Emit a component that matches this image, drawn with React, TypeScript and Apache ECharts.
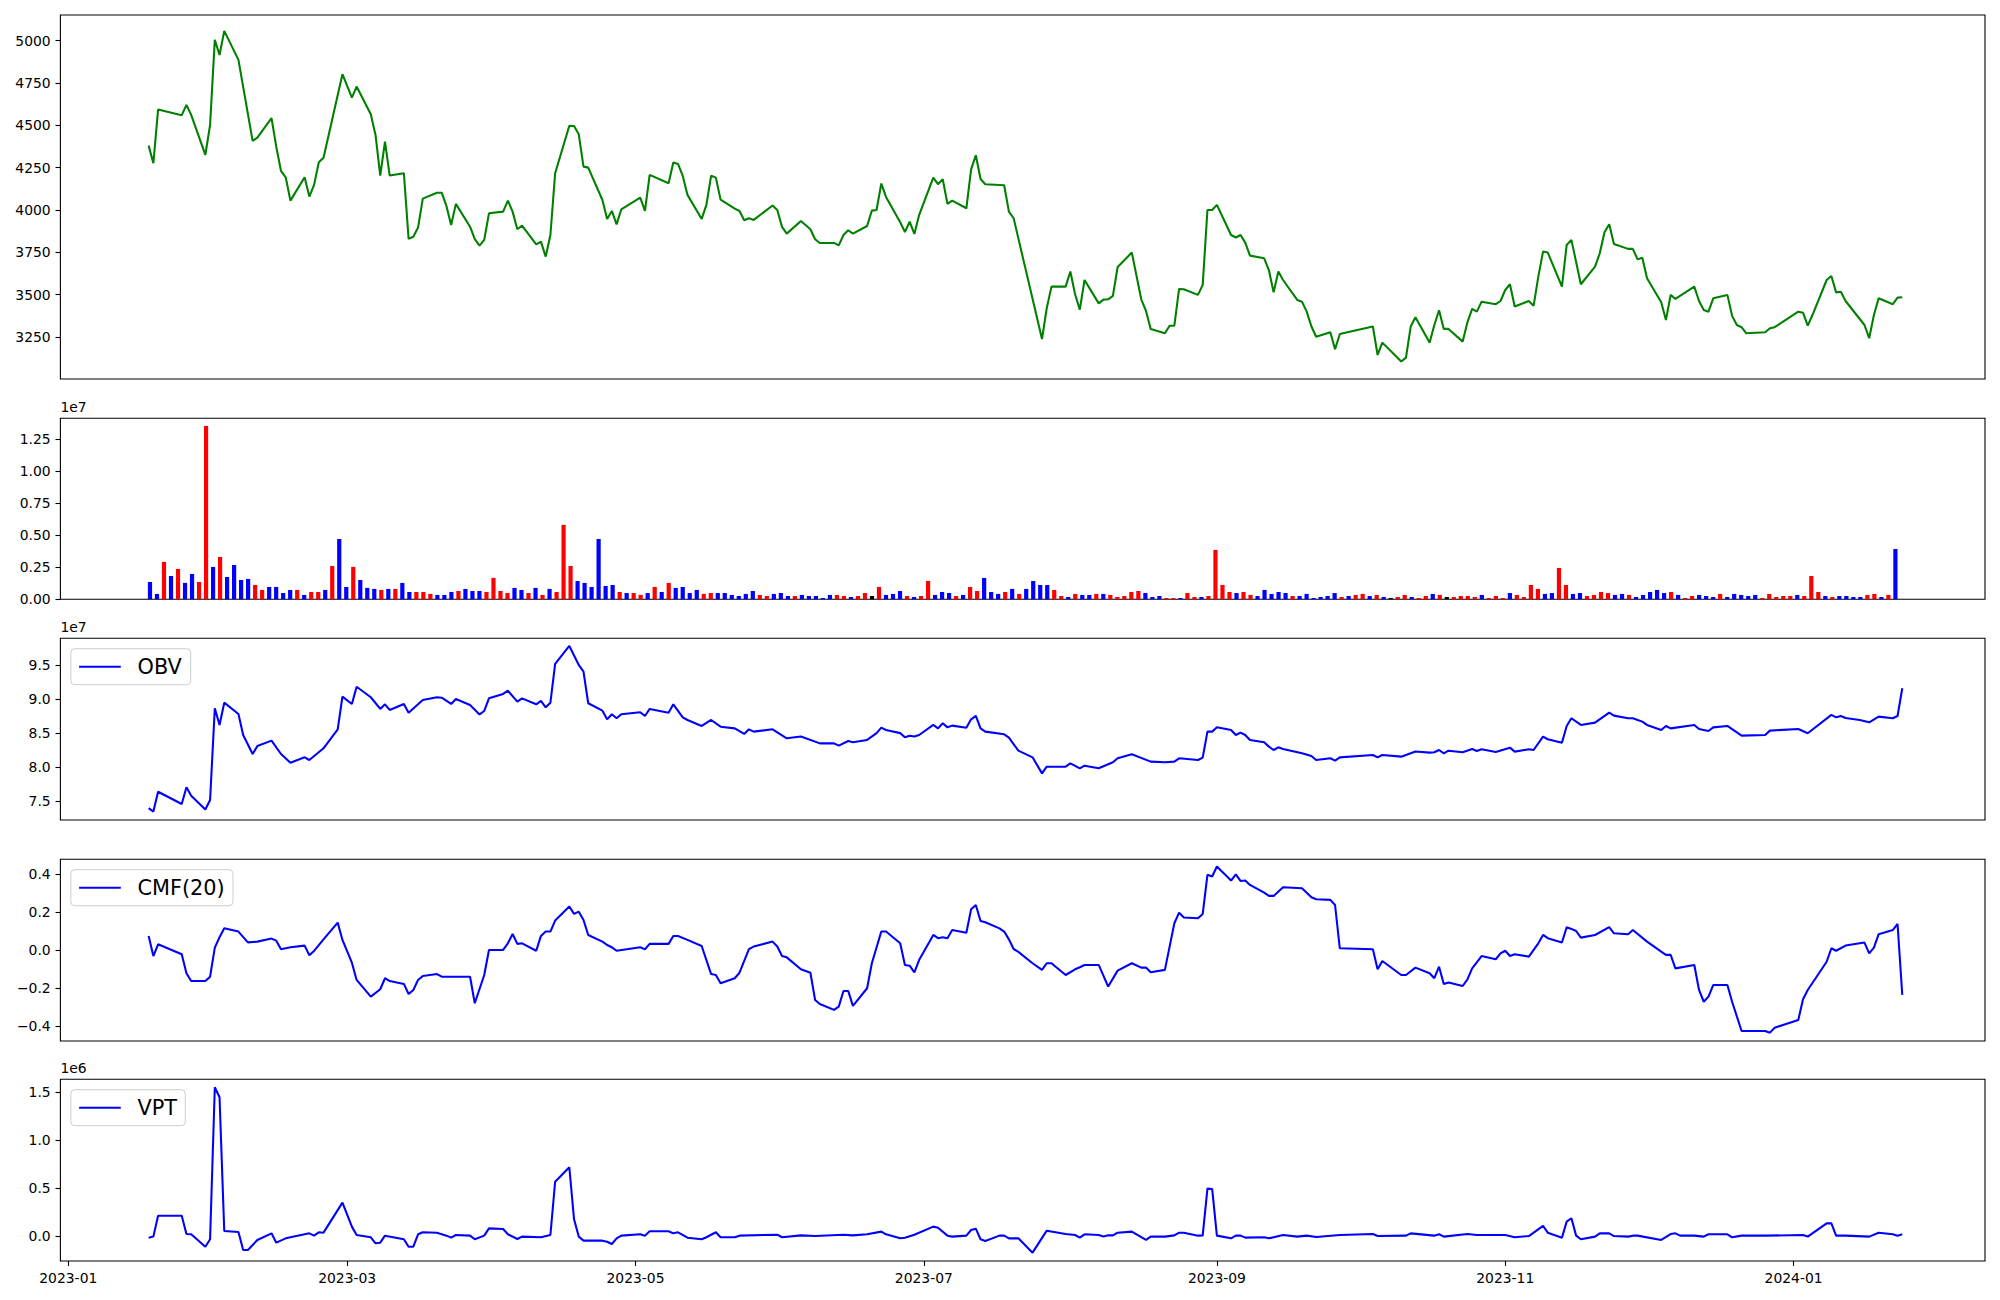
import React, { useEffect, useRef } from "react";
import * as echarts from "echarts";

// ---------------- DATA ----------------
// Close price (KRW)
const priceSeries: [string, number][] = [
  ['2023-01-18',4380],['2023-01-19',4276],['2023-01-20',4593],['2023-01-25',4560],['2023-01-26',4621],['2023-01-27',4562],['2023-01-30',4325],['2023-01-31',4502],['2023-02-01',5005],['2023-02-02',4916],['2023-02-03',5058],['2023-02-06',4887],['2023-02-09',4408],['2023-02-10',4427],['2023-02-13',4542],['2023-02-14',4374],['2023-02-15',4231],['2023-02-16',4193],['2023-02-17',4055],['2023-02-20',4193],['2023-02-21',4079],['2023-02-22',4148],['2023-02-23',4282],['2023-02-24',4309],['2023-02-28',4802],['2023-03-02',4664],['2023-03-03',4729],['2023-03-06',4565],['2023-03-07',4443],['2023-03-08',4203],['2023-03-09',4404],['2023-03-10',4203],['2023-03-13',4217],['2023-03-14',3829],['2023-03-15',3842],['2023-03-16',3896],['2023-03-17',4067],['2023-03-20',4102],['2023-03-21',4102],['2023-03-22',4024],['2023-03-23',3911],['2023-03-24',4036],['2023-03-27',3901],['2023-03-28',3827],['2023-03-29',3789],['2023-03-30',3823],['2023-03-31',3980],['2023-04-03',3990],['2023-04-04',4055],['2023-04-05',3990],['2023-04-06',3886],['2023-04-07',3907],['2023-04-10',3797],['2023-04-11',3813],['2023-04-12',3724],['2023-04-13',3852],['2023-04-14',4217],['2023-04-17',4498],['2023-04-18',4496],['2023-04-19',4447],['2023-04-20',4256],['2023-04-21',4250],['2023-04-24',4059],['2023-04-25',3947],['2023-04-26',3994],['2023-04-27',3915],['2023-04-28',4004],['2023-05-02',4073],['2023-05-03',3994],['2023-05-04',4207],['2023-05-08',4158],['2023-05-09',4280],['2023-05-10',4272],['2023-05-11',4201],['2023-05-12',4089],['2023-05-15',3947],['2023-05-16',4030],['2023-05-17',4203],['2023-05-18',4191],['2023-05-19',4061],['2023-05-22',4008],['2023-05-23',3994],['2023-05-24',3939],['2023-05-25',3951],['2023-05-26',3941],['2023-05-30',4026],['2023-05-31',4000],['2023-06-01',3900],['2023-06-02',3860],['2023-06-05',3935],['2023-06-07',3886],['2023-06-08',3827],['2023-06-09',3805],['2023-06-12',3805],['2023-06-13',3791],['2023-06-14',3852],['2023-06-15',3880],['2023-06-16',3860],['2023-06-19',3905],['2023-06-20',3996],['2023-06-21',4000],['2023-06-22',4156],['2023-06-23',4077],['2023-06-26',3927],['2023-06-27',3870],['2023-06-28',3931],['2023-06-29',3858],['2023-06-30',3970],['2023-07-03',4191],['2023-07-04',4152],['2023-07-05',4181],['2023-07-06',4036],['2023-07-07',4055],['2023-07-10',4010],['2023-07-11',4240],['2023-07-12',4323],['2023-07-13',4183],['2023-07-14',4152],['2023-07-18',4146],['2023-07-19',3990],['2023-07-20',3951],['2023-07-26',3237],['2023-07-27',3419],['2023-07-28',3547],['2023-07-31',3547],['2023-08-01',3636],['2023-08-02',3502],['2023-08-03',3411],['2023-08-04',3586],['2023-08-07',3448],['2023-08-08',3470],['2023-08-09',3472],['2023-08-10',3492],['2023-08-11',3663],['2023-08-14',3748],['2023-08-16',3472],['2023-08-17',3403],['2023-08-18',3297],['2023-08-21',3271],['2023-08-22',3316],['2023-08-23',3316],['2023-08-24',3533],['2023-08-25',3531],['2023-08-28',3498],['2023-08-29',3557],['2023-08-30',4000],['2023-08-31',4000],['2023-09-01',4030],['2023-09-04',3852],['2023-09-05',3837],['2023-09-06',3852],['2023-09-07',3807],['2023-09-08',3730],['2023-09-11',3714],['2023-09-12',3645],['2023-09-13',3513],['2023-09-14',3636],['2023-09-15',3586],['2023-09-18',3468],['2023-09-19',3458],['2023-09-20',3399],['2023-09-21',3311],['2023-09-22',3251],['2023-09-25',3277],['2023-09-26',3177],['2023-09-27',3267],['2023-10-04',3311],['2023-10-05',3143],['2023-10-06',3216],['2023-10-10',3104],['2023-10-11',3127],['2023-10-12',3311],['2023-10-13',3366],['2023-10-16',3216],['2023-10-17',3320],['2023-10-18',3407],['2023-10-19',3297],['2023-10-20',3297],['2023-10-23',3222],['2023-10-24',3336],['2023-10-25',3415],['2023-10-26',3399],['2023-10-27',3458],['2023-10-30',3443],['2023-10-31',3462],['2023-11-01',3527],['2023-11-02',3561],['2023-11-03',3429],['2023-11-06',3462],['2023-11-07',3433],['2023-11-08',3606],['2023-11-09',3754],['2023-11-10',3748],['2023-11-13',3547],['2023-11-14',3793],['2023-11-15',3823],['2023-11-17',3561],['2023-11-20',3665],['2023-11-21',3744],['2023-11-22',3868],['2023-11-23',3915],['2023-11-24',3799],['2023-11-27',3770],['2023-11-28',3770],['2023-11-29',3708],['2023-11-30',3718],['2023-12-01',3596],['2023-12-04',3454],['2023-12-05',3350],['2023-12-06',3498],['2023-12-07',3474],['2023-12-11',3547],['2023-12-12',3462],['2023-12-13',3409],['2023-12-14',3399],['2023-12-15',3478],['2023-12-18',3498],['2023-12-19',3374],['2023-12-20',3320],['2023-12-21',3307],['2023-12-22',3271],['2023-12-26',3277],['2023-12-27',3301],['2023-12-28',3307],['2024-01-02',3399],['2024-01-03',3393],['2024-01-04',3316],['2024-01-05',3379],['2024-01-08',3586],['2024-01-09',3610],['2024-01-10',3513],['2024-01-11',3517],['2024-01-12',3462],['2024-01-16',3320],['2024-01-17',3242],['2024-01-18',3379],['2024-01-19',3478],['2024-01-22',3443],['2024-01-23',3482],['2024-01-24',3484]
];

// Daily volume, one bar per trading day (units of 1e7 shares)
const volume: number[] = [
  0.135,0.042,0.292,0.182,0.237,0.128,0.198,0.135,1.354,0.253,
  0.331,0.174,0.268,0.151,0.159,0.112,0.073,0.096,0.096,0.049,
  0.073,0.073,0.034,0.057,0.057,0.073,0.260,0.471,0.096,0.253,
  0.151,0.089,0.081,0.073,0.081,0.081,0.128,0.057,0.057,0.057,
  0.042,0.034,0.034,0.057,0.065,0.081,0.065,0.065,0.057,0.167,
  0.065,0.049,0.089,0.073,0.049,0.089,0.034,0.081,0.057,0.581,
  0.260,0.143,0.128,0.096,0.471,0.104,0.112,0.057,0.049,0.049,
  0.034,0.049,0.096,0.057,0.128,0.089,0.096,0.049,0.073,0.042,
  0.049,0.049,0.049,0.034,0.026,0.042,0.065,0.034,0.026,0.042,
  0.049,0.026,0.026,0.034,0.026,0.026,0.010,0.034,0.034,0.026,
  0.018,0.026,0.049,0.026,0.096,0.034,0.042,0.065,0.026,0.018,
  0.026,0.143,0.034,0.057,0.049,0.026,0.034,0.096,0.065,0.167,
  0.057,0.042,0.057,0.081,0.042,0.081,0.143,0.112,0.112,0.073,
  0.026,0.018,0.042,0.034,0.034,0.042,0.042,0.034,0.018,0.026,
  0.057,0.065,0.049,0.018,0.026,0.010,0.010,0.010,0.049,0.018,
  0.018,0.026,0.385,0.112,0.057,0.049,0.057,0.034,0.026,0.073,
  0.042,0.057,0.049,0.026,0.026,0.042,0.010,0.018,0.026,0.049,
  0.018,0.026,0.034,0.042,0.026,0.034,0.018,0.010,0.018,0.034,
  0.018,0.010,0.026,0.042,0.034,0.018,0.018,0.026,0.026,0.018,
  0.034,0.010,0.026,0.010,0.049,0.034,0.018,0.112,0.081,0.042,
  0.049,0.245,0.112,0.042,0.049,0.026,0.034,0.057,0.049,0.034,
  0.042,0.034,0.018,0.034,0.057,0.073,0.049,0.057,0.034,0.010,
  0.026,0.034,0.026,0.018,0.042,0.018,0.042,0.034,0.026,0.034,
  0.010,0.042,0.018,0.026,0.026,0.034,0.026,0.182,0.057,0.026,
  0.018,0.026,0.026,0.018,0.018,0.034,0.042,0.018,0.034,0.393
];
// bar colour code per day: r = red, b = blue, k = black
const volumeSide: string[] = (
  "bbrbrbbrrb" + "rbbbbrrbbb" + "brbrrbrbbr" + "bbbrbrbbrr" + "rbbbrbbbrr" +
  "rrbbrbrbrr" + "rbbbbbbrbr" + "rbrbrbbbbr" + "rbbbbbbrrb" + "bbrbbbbbrr" +
  "brrkrbbbrb" + "rrbbbrbrrb" + "bbrbrbbbbr" + "rbrbbrbrrr" + "rrbbbrrbrr" +
  "brrrrbrrbb" + "bbbrbbbbbb" + "rbrrbrbkrr" + "brrbrkrrrr" + "brrrbrrrrb" +
  "brrbbrrrrb" + "brbbbbbrbr" + "rbbbrbbbbb" + "rrrrrbrrrb" + "rbbbbrrbrb"
).split("");

// On-Balance Volume (units of 1e7)
const obvSeries: [string, number][] = [
  ['2023-01-18',7.40],['2023-01-19',7.35],['2023-01-20',7.64],['2023-01-25',7.46],['2023-01-26',7.705],['2023-01-27',7.58],['2023-01-30',7.38],['2023-01-31',7.52],['2023-02-01',8.864],['2023-02-02',8.62],['2023-02-03',8.947],['2023-02-06',8.78],['2023-02-07',8.473],['2023-02-09',8.194],['2023-02-10',8.31],['2023-02-13',8.39],['2023-02-15',8.194],['2023-02-17',8.067],['2023-02-20',8.145],['2023-02-21',8.106],['2023-02-24',8.278],['2023-02-27',8.556],['2023-02-28',9.035],['2023-03-02',8.928],['2023-03-03',9.18],['2023-03-06',9.026],['2023-03-08',8.855],['2023-03-09',8.923],['2023-03-10',8.84],['2023-03-13',8.928],['2023-03-14',8.80],['2023-03-17',8.987],['2023-03-20',9.026],['2023-03-21',9.02],['2023-03-23',8.928],['2023-03-24',9.0],['2023-03-27',8.913],['2023-03-29',8.775],['2023-03-30',8.825],['2023-03-31',9.01],['2023-04-03',9.075],['2023-04-04',9.123],['2023-04-06',8.962],['2023-04-07',9.01],['2023-04-10',8.923],['2023-04-11',8.972],['2023-04-12',8.879],['2023-04-13',8.947],['2023-04-14',9.515],['2023-04-17',9.779],['2023-04-19',9.5],['2023-04-20',9.402],['2023-04-21',8.938],['2023-04-24',8.83],['2023-04-25',8.703],['2023-04-26',8.776],['2023-04-27',8.718],['2023-04-28',8.776],['2023-05-02',8.806],['2023-05-03',8.752],['2023-05-04',8.855],['2023-05-08',8.80],['2023-05-09',8.923],['2023-05-11',8.732],['2023-05-12',8.693],['2023-05-15',8.605],['2023-05-17',8.693],['2023-05-19',8.595],['2023-05-22',8.57],['2023-05-24',8.488],['2023-05-25',8.556],['2023-05-26',8.522],['2023-05-30',8.556],['2023-06-02',8.424],['2023-06-05',8.45],['2023-06-09',8.35],['2023-06-12',8.35],['2023-06-13',8.317],['2023-06-15',8.385],['2023-06-16',8.366],['2023-06-19',8.40],['2023-06-21',8.50],['2023-06-22',8.58],['2023-06-23',8.546],['2023-06-26',8.50],['2023-06-27',8.44],['2023-06-28',8.463],['2023-06-29',8.45],['2023-06-30',8.473],['2023-07-03',8.62],['2023-07-04',8.57],['2023-07-05',8.644],['2023-07-06',8.585],['2023-07-07',8.61],['2023-07-10',8.58],['2023-07-11',8.703],['2023-07-12',8.752],['2023-07-13',8.57],['2023-07-14',8.522],['2023-07-18',8.483],['2023-07-19',8.434],['2023-07-21',8.243],['2023-07-24',8.145],['2023-07-26',7.91],['2023-07-27',8.008],['2023-07-31',8.008],['2023-08-01',8.057],['2023-08-03',7.984],['2023-08-04',8.023],['2023-08-07',7.984],['2023-08-09',8.043],['2023-08-10',8.072],['2023-08-11',8.131],['2023-08-14',8.19],['2023-08-18',8.082],['2023-08-21',8.072],['2023-08-23',8.082],['2023-08-24',8.131],['2023-08-28',8.106],['2023-08-29',8.14],['2023-08-30',8.522],['2023-08-31',8.522],['2023-09-01',8.586],['2023-09-04',8.546],['2023-09-05',8.473],['2023-09-06',8.507],['2023-09-07',8.473],['2023-09-08',8.40],['2023-09-11',8.366],['2023-09-12',8.302],['2023-09-13',8.253],['2023-09-14',8.292],['2023-09-15',8.268],['2023-09-19',8.204],['2023-09-21',8.165],['2023-09-22',8.106],['2023-09-25',8.131],['2023-09-26',8.096],['2023-09-27',8.145],['2023-10-04',8.18],['2023-10-05',8.145],['2023-10-06',8.18],['2023-10-10',8.155],['2023-10-11',8.18],['2023-10-13',8.23],['2023-10-16',8.214],['2023-10-17',8.219],['2023-10-18',8.253],['2023-10-19',8.204],['2023-10-20',8.243],['2023-10-23',8.219],['2023-10-25',8.268],['2023-10-26',8.238],['2023-10-27',8.263],['2023-10-30',8.224],['2023-11-02',8.287],['2023-11-03',8.229],['2023-11-06',8.263],['2023-11-07',8.253],['2023-11-09',8.449],['2023-11-10',8.41],['2023-11-13',8.36],['2023-11-14',8.605],['2023-11-15',8.718],['2023-11-17',8.62],['2023-11-20',8.654],['2023-11-23',8.80],['2023-11-24',8.757],['2023-11-27',8.718],['2023-11-28',8.718],['2023-11-29',8.693],['2023-11-30',8.669],['2023-12-01',8.62],['2023-12-04',8.546],['2023-12-05',8.605],['2023-12-06',8.57],['2023-12-11',8.62],['2023-12-12',8.561],['2023-12-14',8.532],['2023-12-15',8.585],['2023-12-18',8.605],['2023-12-21',8.463],['2023-12-26',8.473],['2023-12-27',8.537],['2024-01-02',8.561],['2024-01-04',8.498],['2024-01-09',8.767],['2024-01-10',8.732],['2024-01-11',8.752],['2024-01-12',8.722],['2024-01-15',8.693],['2024-01-17',8.658],['2024-01-19',8.742],['2024-01-22',8.718],['2024-01-23',8.752],['2024-01-24',9.158]
];

// Chaikin Money Flow (20)
const cmfSeries: [string, number][] = [
  ['2023-01-18',0.074],['2023-01-19',-0.032],['2023-01-20',0.03],['2023-01-25',-0.023],['2023-01-26',-0.123],['2023-01-27',-0.164],['2023-01-30',-0.164],['2023-01-31',-0.141],['2023-02-01',0.012],['2023-02-02',0.067],['2023-02-03',0.114],['2023-02-06',0.097],['2023-02-08',0.04],['2023-02-10',0.044],['2023-02-13',0.06],['2023-02-14',0.049],['2023-02-15',0.004],['2023-02-17',0.014],['2023-02-20',0.023],['2023-02-21',-0.028],['2023-02-22',-0.005],['2023-02-24',0.056],['2023-02-27',0.144],['2023-02-28',0.053],['2023-03-02',-0.067],['2023-03-03',-0.158],['2023-03-06',-0.246],['2023-03-08',-0.207],['2023-03-09',-0.149],['2023-03-10',-0.164],['2023-03-13',-0.179],['2023-03-14',-0.232],['2023-03-15',-0.211],['2023-03-16',-0.158],['2023-03-17',-0.137],['2023-03-20',-0.127],['2023-03-21',-0.141],['2023-03-23',-0.141],['2023-03-27',-0.141],['2023-03-28',-0.281],['2023-03-30',-0.132],['2023-03-31',0.0],['2023-04-03',0.0],['2023-04-04',0.035],['2023-04-05',0.084],['2023-04-06',0.032],['2023-04-07',0.035],['2023-04-10',-0.004],['2023-04-11',0.074],['2023-04-12',0.097],['2023-04-13',0.097],['2023-04-14',0.155],['2023-04-17',0.229],['2023-04-18',0.19],['2023-04-19',0.202],['2023-04-20',0.158],['2023-04-21',0.079],['2023-04-24',0.044],['2023-04-25',0.026],['2023-04-26',0.014],['2023-04-27',-0.004],['2023-05-02',0.014],['2023-05-03',0.004],['2023-05-04',0.032],['2023-05-08',0.032],['2023-05-09',0.074],['2023-05-10',0.074],['2023-05-12',0.053],['2023-05-15',0.021],['2023-05-17',-0.127],['2023-05-18',-0.132],['2023-05-19',-0.176],['2023-05-22',-0.149],['2023-05-23',-0.12],['2023-05-25',0.004],['2023-05-26',0.018],['2023-05-30',0.044],['2023-05-31',0.018],['2023-06-01',-0.032],['2023-06-02',-0.039],['2023-06-05',-0.102],['2023-06-07',-0.12],['2023-06-08',-0.264],['2023-06-09',-0.285],['2023-06-12',-0.316],['2023-06-13',-0.299],['2023-06-14',-0.216],['2023-06-15',-0.216],['2023-06-16',-0.295],['2023-06-19',-0.202],['2023-06-20',-0.07],['2023-06-22',0.097],['2023-06-23',0.097],['2023-06-26',0.035],['2023-06-27',-0.079],['2023-06-28',-0.083],['2023-06-29',-0.118],['2023-06-30',-0.053],['2023-07-03',0.079],['2023-07-04',0.062],['2023-07-05',0.067],['2023-07-06',0.062],['2023-07-07',0.105],['2023-07-10',0.091],['2023-07-11',0.215],['2023-07-12',0.237],['2023-07-13',0.153],['2023-07-14',0.146],['2023-07-17',0.114],['2023-07-18',0.097],['2023-07-19',0.056],['2023-07-20',0.005],['2023-07-21',-0.01],['2023-07-24',-0.07],['2023-07-26',-0.105],['2023-07-27',-0.07],['2023-07-28',-0.07],['2023-07-31',-0.132],['2023-08-02',-0.102],['2023-08-03',-0.091],['2023-08-04',-0.079],['2023-08-07',-0.079],['2023-08-09',-0.193],['2023-08-11',-0.109],['2023-08-14',-0.07],['2023-08-16',-0.093],['2023-08-17',-0.093],['2023-08-18',-0.118],['2023-08-21',-0.105],['2023-08-23',0.141],['2023-08-24',0.197],['2023-08-25',0.171],['2023-08-28',0.167],['2023-08-29',0.19],['2023-08-30',0.396],['2023-08-31',0.387],['2023-09-01',0.44],['2023-09-04',0.366],['2023-09-05',0.399],['2023-09-06',0.364],['2023-09-07',0.366],['2023-09-08',0.343],['2023-09-11',0.302],['2023-09-12',0.285],['2023-09-13',0.285],['2023-09-15',0.331],['2023-09-19',0.325],['2023-09-21',0.278],['2023-09-22',0.267],['2023-09-25',0.264],['2023-09-26',0.237],['2023-09-27',0.009],['2023-10-04',0.004],['2023-10-05',-0.102],['2023-10-06',-0.058],['2023-10-10',-0.132],['2023-10-11',-0.132],['2023-10-13',-0.093],['2023-10-16',-0.123],['2023-10-17',-0.149],['2023-10-18',-0.088],['2023-10-19',-0.179],['2023-10-20',-0.171],['2023-10-23',-0.19],['2023-10-24',-0.155],['2023-10-25',-0.097],['2023-10-27',-0.032],['2023-10-30',-0.049],['2023-10-31',-0.018],['2023-11-01',-0.004],['2023-11-02',-0.032],['2023-11-03',-0.023],['2023-11-06',-0.035],['2023-11-08',0.035],['2023-11-09',0.079],['2023-11-10',0.062],['2023-11-13',0.039],['2023-11-14',0.12],['2023-11-15',0.111],['2023-11-16',0.1],['2023-11-17',0.065],['2023-11-20',0.079],['2023-11-23',0.12],['2023-11-24',0.088],['2023-11-27',0.083],['2023-11-28',0.105],['2023-12-01',0.044],['2023-12-04',-0.009],['2023-12-05',-0.026],['2023-12-06',-0.026],['2023-12-07',-0.097],['2023-12-11',-0.079],['2023-12-12',-0.211],['2023-12-13',-0.273],['2023-12-14',-0.246],['2023-12-15',-0.185],['2023-12-18',-0.185],['2023-12-19',-0.273],['2023-12-21',-0.427],['2023-12-26',-0.427],['2023-12-27',-0.436],['2023-12-28',-0.41],['2024-01-02',-0.369],['2024-01-03',-0.26],['2024-01-04',-0.211],['2024-01-08',-0.062],['2024-01-09',0.009],['2024-01-10',-0.004],['2024-01-12',0.023],['2024-01-15',0.035],['2024-01-16',0.039],['2024-01-17',-0.018],['2024-01-18',0.012],['2024-01-19',0.083],['2024-01-22',0.105],['2024-01-23',0.137],['2024-01-24',-0.237]
];

// Volume Price Trend (units of 1e6)
const vptSeries: [string, number][] = [
  ['2023-01-18',-0.014],['2023-01-19',-0.003],['2023-01-20',0.215],['2023-01-25',0.215],['2023-01-26',0.024],['2023-01-27',0.021],['2023-01-30',-0.108],['2023-01-31',-0.031],['2023-02-01',1.552],['2023-02-02',1.448],['2023-02-03',0.056],['2023-02-06',0.045],['2023-02-07',-0.142],['2023-02-08',-0.142],['2023-02-10',-0.038],['2023-02-13',0.031],['2023-02-14',-0.066],['2023-02-16',-0.021],['2023-02-21',0.031],['2023-02-22',0.007],['2023-02-23',0.042],['2023-02-24',0.038],['2023-02-28',0.351],['2023-03-02',0.101],['2023-03-03',0.014],['2023-03-06',-0.01],['2023-03-07',-0.073],['2023-03-08',-0.066],['2023-03-09',0.007],['2023-03-13',-0.031],['2023-03-14',-0.108],['2023-03-15',-0.108],['2023-03-16',0.021],['2023-03-17',0.042],['2023-03-20',0.038],['2023-03-22',0.007],['2023-03-23',-0.014],['2023-03-24',0.014],['2023-03-27',0.007],['2023-03-28',-0.031],['2023-03-30',0.007],['2023-03-31',0.083],['2023-04-03',0.076],['2023-04-04',0.021],['2023-04-06',-0.028],['2023-04-07',-0.003],['2023-04-11',-0.01],['2023-04-13',0.014],['2023-04-14',0.569],['2023-04-17',0.719],['2023-04-18',0.177],['2023-04-19',-0.003],['2023-04-20',-0.045],['2023-04-24',-0.045],['2023-04-25',-0.056],['2023-04-26',-0.08],['2023-04-27',-0.021],['2023-04-28',0.007],['2023-05-02',0.021],['2023-05-03',0.007],['2023-05-04',0.052],['2023-05-08',0.052],['2023-05-09',0.031],['2023-05-10',0.042],['2023-05-12',-0.014],['2023-05-15',-0.031],['2023-05-16',-0.01],['2023-05-18',0.042],['2023-05-19',-0.01],['2023-05-22',-0.01],['2023-05-23',0.007],['2023-05-31',0.017],['2023-06-01',-0.01],['2023-06-05',0.01],['2023-06-08',0.003],['2023-06-14',0.017],['2023-06-16',0.01],['2023-06-19',0.021],['2023-06-22',0.049],['2023-06-23',0.021],['2023-06-26',-0.021],['2023-06-27',-0.014],['2023-06-29',0.017],['2023-07-03',0.101],['2023-07-04',0.09],['2023-07-06',0.007],['2023-07-07',-0.003],['2023-07-10',0.007],['2023-07-11',0.066],['2023-07-12',0.08],['2023-07-13',-0.031],['2023-07-14',-0.049],['2023-07-17',0.007],['2023-07-18',0.007],['2023-07-19',-0.021],['2023-07-21',-0.021],['2023-07-24',-0.17],['2023-07-27',0.059],['2023-07-31',0.024],['2023-08-02',0.014],['2023-08-03',-0.014],['2023-08-04',0.021],['2023-08-07',0.014],['2023-08-08',-0.003],['2023-08-09',0.01],['2023-08-10',0.01],['2023-08-11',0.038],['2023-08-14',0.049],['2023-08-17',-0.038],['2023-08-18',-0.003],['2023-08-21',-0.003],['2023-08-23',0.01],['2023-08-24',0.038],['2023-08-25',0.038],['2023-08-28',0.007],['2023-08-29',0.01],['2023-08-30',0.497],['2023-08-31',0.493],['2023-09-01',0.007],['2023-09-04',-0.021],['2023-09-05',0.007],['2023-09-06',0.007],['2023-09-07',-0.014],['2023-09-11',-0.01],['2023-09-12',-0.021],['2023-09-15',0.014],['2023-09-18',-0.003],['2023-09-20',0.007],['2023-09-22',-0.007],['2023-09-27',0.014],['2023-10-04',0.024],['2023-10-05',0.003],['2023-10-11',0.007],['2023-10-12',0.031],['2023-10-17',0.007],['2023-10-18',0.021],['2023-10-19',-0.003],['2023-10-24',0.024],['2023-10-26',0.014],['2023-11-01',0.014],['2023-11-03',-0.01],['2023-11-06',0.003],['2023-11-09',0.108],['2023-11-10',0.038],['2023-11-13',-0.014],['2023-11-14',0.153],['2023-11-15',0.188],['2023-11-16',0.007],['2023-11-17',-0.031],['2023-11-20',-0.003],['2023-11-21',0.031],['2023-11-23',0.031],['2023-11-24',0.003],['2023-11-27',-0.003],['2023-11-28',0.007],['2023-11-29',0.007],['2023-12-04',-0.038],['2023-12-06',0.024],['2023-12-07',0.031],['2023-12-08',0.007],['2023-12-11',0.007],['2023-12-13',-0.003],['2023-12-14',0.021],['2023-12-18',0.021],['2023-12-19',-0.01],['2023-12-21',0.007],['2023-12-26',0.007],['2024-01-03',0.014],['2024-01-04',-0.003],['2024-01-08',0.135],['2024-01-09',0.135],['2024-01-10',0.007],['2024-01-12',0.007],['2024-01-17',-0.003],['2024-01-19',0.038],['2024-01-22',0.021],['2024-01-23',0.007],['2024-01-24',0.021]
];

// Tick values
const monthTicks: string[] = ['2023-01-01','2023-03-01','2023-05-01','2023-07-01','2023-09-01','2023-11-01','2024-01-01'];
const priceTicks = [3250, 3500, 3750, 4000, 4250, 4500, 4750, 5000];
const volumeTicks = [0, 0.25, 0.5, 0.75, 1.0, 1.25];
const obvTicks = [7.5, 8.0, 8.5, 9.0, 9.5];
const cmfTicks = [-0.4, -0.2, 0.0, 0.2, 0.4];
const vptTicks = [0.0, 0.5, 1.0, 1.5];

// ---------------- CHART ----------------
const FONT = "DejaVu Sans";
const LEFT = 60.4;
const WIDTH = 1924.6;
const PANELS = [
  { top: 15, height: 364 },
  { top: 418.3, height: 181 },
  { top: 638.3, height: 181.7 },
  { top: 859.3, height: 181.7 },
  { top: 1079.3, height: 181.7 },
];

function toTs(s: string): number {
  const [y, m, d] = s.split("-").map(Number);
  return Date.UTC(y, m - 1, d);
}
const withTs = (rows: [string, number][]) => rows.map(([d, v]) => [toTs(d), v]);

const X_MIN = Date.UTC(2022, 11, 30, 8);
const X_MAX = Date.UTC(2024, 1, 10, 12);

function yAxis(gridIndex: number, min: number, max: number, ticks: number[], fmt: (v: number) => string, name?: string) {
  return {
    type: "value",
    gridIndex,
    position: "left",
    min,
    max,
    name: name || "",
    nameLocation: "end",
    nameGap: 4,
    nameTextStyle: { align: "left", verticalAlign: "bottom", fontFamily: FONT, fontSize: 13.9, color: "#000", padding: 0 },
    axisLine: { show: false, onZero: false },
    axisTick: { show: true, inside: false, length: 4.9, customValues: ticks, lineStyle: { color: "#000", width: 1.1 } },
    axisLabel: { show: true, customValues: ticks, formatter: (v: number) => fmt(v), margin: 9.7, color: "#000", fontSize: 13.9, fontFamily: FONT },
    splitLine: { show: false },
  };
}

function dateAxis(gridIndex: number, showLabels: boolean) {
  const ticks = monthTicks.map(toTs);
  return {
    type: "value",
    gridIndex,
    position: "bottom",
    min: X_MIN,
    max: X_MAX,
    axisLine: { show: false, onZero: false },
    axisTick: { show: showLabels, inside: false, length: 4.9, customValues: ticks, lineStyle: { color: "#000", width: 1.1 } },
    axisLabel: {
      show: showLabels,
      customValues: ticks,
      margin: 9.7,
      color: "#000",
      fontSize: 13.9,
      fontFamily: FONT,
      formatter: (v: number) => {
        const d = new Date(v);
        return d.getUTCFullYear() + "-" + String(d.getUTCMonth() + 1).padStart(2, "0");
      },
    },
    splitLine: { show: false },
  };
}

const cmfFmt = (v: number) => {
  const s = Math.abs(v).toFixed(1);
  return v < -1e-9 ? "\u2212" + s : s;
};

function legendBox(panel: number, label: string, textWidth: number) {
  const fs = 20.83;
  const x = LEFT + 10.4;
  const y = PANELS[panel].top + 10.4;
  const h = 36;
  const w = 8.3 + 41.7 + 16.7 + textWidth + 8.3;
  return {
    type: "group",
    z: 100,
    children: [
      { type: "rect", shape: { x, y, width: w, height: h, r: 4 }, style: { fill: "rgba(255,255,255,0.8)", stroke: "#cccccc", lineWidth: 1 } },
      { type: "line", shape: { x1: x + 8.3, y1: y + h / 2, x2: x + 8.3 + 41.7, y2: y + h / 2 }, style: { stroke: "#0000ff", lineWidth: 2.08 } },
      { type: "text", x: x + 8.3 + 41.7 + 16.7, y: y + h / 2, style: { text: label, fontFamily: FONT, fontSize: fs, fill: "#000", verticalAlign: "middle", align: "left" } },
    ],
  };
}

const COLORS: Record<string, string> = { r: "#ff0000", b: "#0000ff", k: "#000000" };

export default function App() {
  const ref = useRef<HTMLDivElement>(null);
  useEffect(() => {
    if (!ref.current) return;
    const chart = echarts.init(ref.current, null, { renderer: "svg" });
    const option: any = {
      animation: false,
      backgroundColor: "#ffffff",
      textStyle: { fontFamily: FONT },
      grid: PANELS.map((p) => ({
        left: LEFT,
        top: p.top,
        width: WIDTH,
        height: p.height,
        show: true,
        borderColor: "#000",
        borderWidth: 1.1,
        backgroundColor: "transparent",
        containLabel: false,
      })),
      xAxis: [
        dateAxis(0, false),
        {
          type: "value",
          gridIndex: 1,
          position: "bottom",
          min: -12.78,
          max: 261.78,
          show: false,
          axisLine: { show: false, onZero: false },
          splitLine: { show: false },
        },
        dateAxis(2, false),
        dateAxis(3, false),
        dateAxis(4, true),
      ],
      yAxis: [
        yAxis(0, 3001, 5152, priceTicks, (v) => String(v)),
        yAxis(1, 0, 1.414, volumeTicks, (v) => v.toFixed(2), "1e7"),
        yAxis(2, 7.226, 9.891, obvTicks, (v) => v.toFixed(1), "1e7"),
        yAxis(3, -0.48, 0.478, cmfTicks, cmfFmt),
        yAxis(4, -0.257, 1.635, vptTicks, (v) => v.toFixed(1), "1e6"),
      ],
      series: [
        {
          name: "Close",
          type: "line",
          xAxisIndex: 0,
          yAxisIndex: 0,
          data: withTs(priceSeries),
          showSymbol: false,
          lineStyle: { color: "#008000", width: 2.08 },
          itemStyle: { color: "#008000" },
        },
        {
          name: "Volume",
          type: "bar",
          xAxisIndex: 1,
          yAxisIndex: 1,
          barWidth: 4.2,
          data: volume.map((v, i) => ({ value: [i, v], itemStyle: { color: COLORS[volumeSide[i]] || "#0000ff" } })),
        },
        {
          name: "OBV",
          type: "line",
          xAxisIndex: 2,
          yAxisIndex: 2,
          data: withTs(obvSeries),
          showSymbol: false,
          lineStyle: { color: "#0000ff", width: 2.08 },
          itemStyle: { color: "#0000ff" },
        },
        {
          name: "CMF(20)",
          type: "line",
          xAxisIndex: 3,
          yAxisIndex: 3,
          data: withTs(cmfSeries),
          showSymbol: false,
          lineStyle: { color: "#0000ff", width: 2.08 },
          itemStyle: { color: "#0000ff" },
        },
        {
          name: "VPT",
          type: "line",
          xAxisIndex: 4,
          yAxisIndex: 4,
          data: withTs(vptSeries),
          showSymbol: false,
          lineStyle: { color: "#0000ff", width: 2.08 },
          itemStyle: { color: "#0000ff" },
        },
      ],
      graphic: [legendBox(2, "OBV", 44.9), legendBox(3, "CMF(20)", 87.2), legendBox(4, "VPT", 39.5)],
    };
    chart.setOption(option);
    return () => chart.dispose();
  }, []);
  return <div ref={ref} style={{ position: "absolute", left: 0, top: 0, width: 2000, height: 1300, background: "#fff" }} />;
}
